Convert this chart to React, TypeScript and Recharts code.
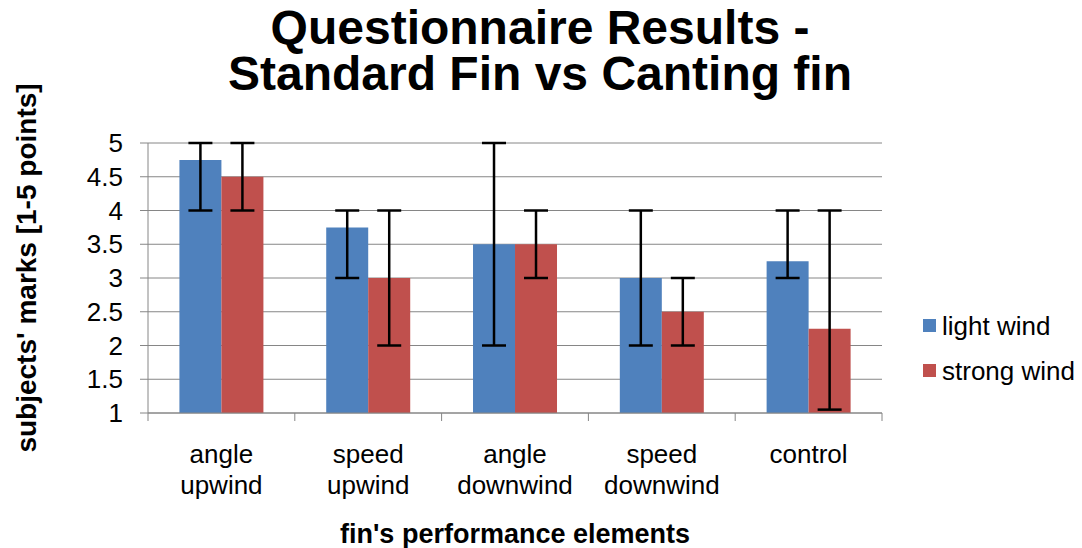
import React from "react";
import {
  BarChart,
  Bar,
  XAxis,
  YAxis,
  CartesianGrid,
  ErrorBar,
} from "recharts";

const categories = [
  "angle upwind",
  "speed upwind",
  "angle downwind",
  "speed downwind",
  "control",
];
const lightWind = [4.75, 3.75, 3.5, 3, 3.25];
const lightLow = [4, 3, 2, 2, 3];
const lightHigh = [5, 4, 5, 4, 4];
const strongWind = [4.5, 3, 3.5, 2.5, 2.25];
const strongLow = [4, 2, 3, 2, 1.05];
const strongHigh = [5, 4, 4, 3, 4];
const yTicks = [1, 1.5, 2, 2.5, 3, 3.5, 4, 4.5, 5];

const series = [
  { key: "light", name: "light wind", color: "#4F81BD" },
  { key: "strong", name: "strong wind", color: "#C0504D" },
];

const FONT = "'Liberation Sans', Arial, sans-serif";
const AXIS_GREY = "#868686";

const W = 1082;
const H = 548;
const PLOT_LEFT = 148;
const PLOT_RIGHT = 882;
const PLOT_TOP = 143;
const PLOT_BOTTOM = 413;

const data = categories.map((cat, i) => ({
  cat,
  light: lightWind[i],
  lightErr: [lightWind[i] - lightLow[i], lightHigh[i] - lightWind[i]],
  strong: strongWind[i],
  strongErr: [strongWind[i] - strongLow[i], strongHigh[i] - strongWind[i]],
}));

const halfBand = (PLOT_RIGHT - PLOT_LEFT) / categories.length / 2;

const CategoryTick = (props: any) => {
  const { x, payload, index } = props;
  const lines = String(payload.value).split(" ");
  const axisY = PLOT_BOTTOM;
  return (
    <g>
      <line x1={x - halfBand} y1={axisY} x2={x - halfBand} y2={axisY + 8} stroke={AXIS_GREY} />
      {index === categories.length - 1 && (
        <line x1={x + halfBand} y1={axisY} x2={x + halfBand} y2={axisY + 8} stroke={AXIS_GREY} />
      )}
      {lines.map((ln, i) => (
        <text
          key={i}
          x={x}
          y={axisY + 50 + i * 31}
          textAnchor="middle"
          fontSize={26}
          fontFamily={FONT}
          fill="#000"
        >
          {ln}
        </text>
      ))}
    </g>
  );
};

const ValueTick = (props: any) => {
  const { y, payload } = props;
  return (
    <text
      x={PLOT_LEFT - 25}
      y={y}
      textAnchor="end"
      dominantBaseline="central"
      fontSize={26}
      fontFamily={FONT}
      fill="#000"
    >
      {payload.value}
    </text>
  );
};

const App: React.FC = () => {
  return (
    <div style={{ position: "absolute", left: 0, top: 0, width: W, height: H, background: "#fff" }}>
      <BarChart
        width={W}
        height={H}
        data={data}
        margin={{ top: PLOT_TOP, right: W - PLOT_RIGHT, bottom: 0, left: 0 }}
        barCategoryGap="21.4%"
        barGap={0}
      >
        <CartesianGrid vertical={false} stroke={AXIS_GREY} strokeWidth={1} />
        <XAxis
          dataKey="cat"
          height={H - PLOT_BOTTOM}
          tickLine={false}
          axisLine={{ stroke: AXIS_GREY }}
          tick={<CategoryTick />}
          interval={0}
          label={{
            content: () => (
              <text
                x={(PLOT_LEFT + PLOT_RIGHT) / 2}
                y={543}
                textAnchor="middle"
                fontSize={27}
                fontWeight="bold"
                fontFamily={FONT}
                fill="#000"
              >
                fin's performance elements
              </text>
            ),
          }}
        />
        <YAxis
          width={PLOT_LEFT}
          domain={[1, 5]}
          ticks={yTicks}
          interval={0}
          tickSize={8}
          axisLine={{ stroke: AXIS_GREY }}
          tickLine={{ stroke: AXIS_GREY }}
          tick={<ValueTick />}
          label={{
            content: () => (
              <text
                x={36}
                y={(PLOT_TOP + PLOT_BOTTOM) / 2 - 10}
                textAnchor="middle"
                fontSize={28}
                fontWeight="bold"
                fontFamily={FONT}
                fill="#000"
                transform={`rotate(-90 36 ${(PLOT_TOP + PLOT_BOTTOM) / 2 - 10})`}
              >
                subjects' marks [1-5 points]
              </text>
            ),
          }}
        />
        {series.map((s) => (
          <Bar key={s.key} dataKey={s.key} name={s.name} fill={s.color} isAnimationActive={false}>
            <ErrorBar
              dataKey={`${s.key}Err`}
              width={12}
              stroke="#000"
              strokeWidth={2.5}
              direction="y"
              isAnimationActive={false}
            />
          </Bar>
        ))}
      </BarChart>
      <svg
        width={W}
        height={H}
        style={{ position: "absolute", left: 0, top: 0, pointerEvents: "none" }}
      >
        <text textAnchor="middle" fontSize={48} fontWeight="bold" fontFamily={FONT}>
          <tspan x={540} y={44}>
            Questionnaire Results -
          </tspan>
          <tspan x={540} y={90}>
            Standard Fin vs Canting fin
          </tspan>
        </text>
        {series.map((s, i) => (
          <g key={s.key}>
            <rect x={923} y={319 + i * 45} width={13} height={13} fill={s.color} />
            <text
              x={942}
              y={326 + i * 45}
              dominantBaseline="central"
              fontSize={26}
              fontFamily={FONT}
              fill="#000"
            >
              {s.name}
            </text>
          </g>
        ))}
      </svg>
    </div>
  );
};

export default App;
